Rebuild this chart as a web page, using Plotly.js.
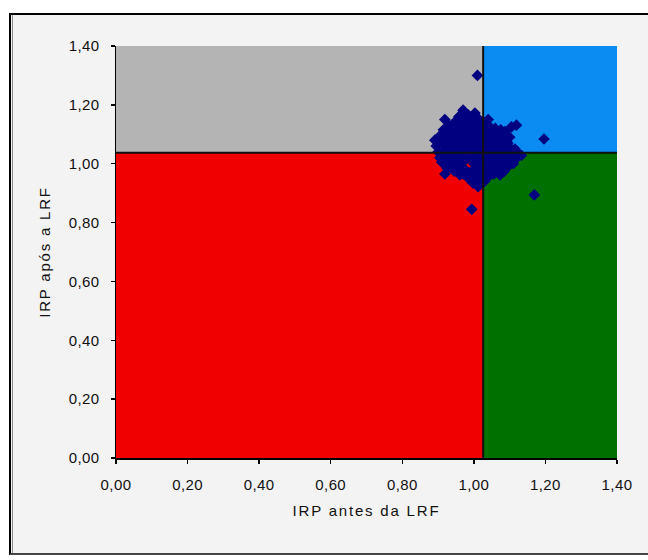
<!DOCTYPE html>
<html>
<head>
<meta charset="utf-8">
<script src="https://cdn.plot.ly/plotly-3.0.1.min.js"></script>
<style>
  html, body { margin: 0; padding: 0; background: #ffffff; overflow: hidden; width: 648px; height: 560px; }
  #frame { position: absolute; left: 9px; top: 13px; width: 700px; height: 542px;
           background: #f3f3f3; border-left: 2px solid #000; border-top: 2px solid #000;
           border-bottom: 2px solid #444; border-right: none; box-sizing: border-box; }
  #inner { position: absolute; left: 12px; top: 15px; width: 1px; height: 538px; background: #8a8a8a; }
  #chart { position: absolute; left: 0; top: 0; width: 648px; height: 560px; }
  .xtitle, .ytitle { letter-spacing: 1.8px; }
  .xtick text, .ytick text { letter-spacing: 0.4px; }
</style>
</head>
<body>
<div id="frame"></div>
<div id="inner"></div>
<div id="chart"></div>
<script>
// Reference thresholds dividing the quadrants
const xThreshold = 1.026;
const yThreshold = 1.037;

// IRP before LRF (x) and after LRF (y)
const irpAntes = [
  1.010, 1.196, 1.169, 0.994, 0.919,
  0.891, 0.895, 0.900, 0.905, 0.915, 0.919, 0.930, 0.945, 0.958, 0.970,
  0.985, 1.003, 1.015, 1.030, 1.045, 1.060, 1.075, 1.087, 1.105, 1.119,
  1.100, 1.095, 1.105, 1.120, 1.133, 1.115, 1.110, 1.095, 1.085, 1.073,
  1.055, 1.040, 1.030, 1.012, 0.998, 0.985, 0.961, 0.945, 0.925, 0.910, 0.905,
  0.920, 0.925, 0.930, 0.935, 0.940, 0.942, 0.950, 0.952, 0.955, 0.958,
  0.960, 0.965, 0.968, 0.970, 0.972, 0.975, 0.978, 0.982, 0.985, 0.988,
  0.990, 0.992, 0.995, 0.998, 1.000, 1.002, 1.005, 1.008, 1.010, 1.012,
  1.015, 1.018, 1.020, 1.022, 1.025, 1.028, 1.030, 1.032, 1.035, 1.038,
  1.040, 1.042, 1.045, 1.048, 1.050, 1.052, 1.055, 1.058, 1.060, 1.062,
  1.065, 1.068, 1.070, 1.075, 1.078, 1.080, 1.085, 1.088, 1.092, 1.098,
  0.915, 0.918, 0.928, 0.938, 0.948, 0.962, 1.025, 1.045, 0.975, 1.040,
  0.900, 0.910, 0.912, 0.922, 0.925, 0.932, 0.935, 0.940, 0.945, 0.950,
  0.955, 0.960, 0.963, 0.968, 0.972, 0.976, 0.980, 0.982, 0.986, 0.990,
  0.994, 0.996, 1.000, 1.004, 1.006, 1.010, 1.013, 1.016, 1.020, 1.024,
  1.028, 1.030, 1.034, 1.036, 1.040, 1.044, 1.047, 1.050, 1.054, 1.057,
  1.062, 1.066, 1.070, 1.074, 1.078, 1.082, 1.086, 1.090, 1.095, 1.100,
  1.108, 1.112, 1.115, 1.125, 1.000, 1.015, 1.035, 0.970, 0.955, 1.060
];
const irpApos = [
  1.300, 1.084, 0.894, 0.845, 0.965,
  1.080, 1.060, 1.040, 1.095, 1.115, 1.150, 1.130, 1.140, 1.160, 1.182,
  1.165, 1.172, 1.150, 1.140, 1.125, 1.120, 1.115, 1.109, 1.125, 1.131,
  1.090, 1.070, 1.050, 1.040, 1.028, 1.015, 1.000, 0.990, 0.975, 0.962,
  0.965, 0.955, 0.940, 0.922, 0.934, 0.950, 0.962, 0.975, 0.985, 1.005, 1.020,
  1.060, 1.090, 1.030, 1.010, 1.070, 1.110, 1.050, 1.090, 1.000, 1.125,
  1.030, 1.070, 1.105, 0.985, 1.140, 1.050, 1.015, 1.085, 1.120, 1.035,
  0.970, 1.065, 1.100, 1.140, 1.000, 1.045, 1.080, 1.115, 0.960, 1.020,
  1.060, 1.095, 0.985, 1.130, 1.040, 1.075, 1.005, 1.105, 0.975, 1.055,
  1.025, 1.090, 0.995, 1.070, 1.110, 1.040, 1.010, 1.085, 0.985, 1.055,
  1.100, 1.025, 1.070, 1.000, 1.045, 1.090, 1.020, 1.060, 1.035, 1.010,
  1.045, 1.075, 1.000, 1.050, 1.020, 0.995, 0.950, 0.975, 1.160, 1.150,
  1.070, 1.085, 1.030, 1.100, 1.015, 1.120, 1.080, 1.040, 0.995, 1.130,
  1.065, 1.150, 1.045, 1.010, 1.120, 1.090, 0.975, 1.150, 1.055, 1.125,
  1.020, 1.085, 1.160, 0.985, 1.060, 1.135, 1.000, 1.040, 1.110, 1.070,
  0.970, 1.125, 1.030, 1.090, 1.060, 1.010, 1.120, 1.050, 0.990, 1.075,
  1.035, 1.110, 1.000, 1.060, 1.025, 1.075, 1.000, 1.050, 1.025, 1.040,
  1.030, 1.010, 1.050, 1.030, 0.945, 0.940, 0.960, 0.965, 0.980, 0.970
];

const tickVals = [0, 0.2, 0.4, 0.6, 0.8, 1.0, 1.2, 1.4];
const axisMax = 1.4;

const quadrantColors = { topLeft: '#b4b4b4', topRight: '#0a8cf2', bottomLeft: '#f00000', bottomRight: '#007000' };

const trace = {
  type: 'scatter', mode: 'markers',
  x: irpAntes, y: irpApos,
  marker: { symbol: 'diamond', size: 9, color: '#000080', line: { width: 0 } },
  hoverinfo: 'x+y', showlegend: false
};

function rect(x0, x1, y0, y1, color) {
  return { type: 'rect', xref: 'x', yref: 'y', x0, x1, y0, y1, fillcolor: color,
           line: { width: 0 }, layer: 'below' };
}

const shapes = [
  rect(0, xThreshold, yThreshold, axisMax, quadrantColors.topLeft),
  rect(xThreshold, axisMax, yThreshold, axisMax, quadrantColors.topRight),
  rect(0, xThreshold, 0, yThreshold, quadrantColors.bottomLeft),
  rect(xThreshold, axisMax, 0, yThreshold, quadrantColors.bottomRight),
  { type: 'line', xref: 'x', yref: 'y', x0: xThreshold, x1: xThreshold, y0: 0, y1: axisMax,
    line: { color: '#111', width: 2 }, layer: 'above' },
  { type: 'line', xref: 'x', yref: 'y', x0: 0, x1: axisMax, y0: yThreshold, y1: yThreshold,
    line: { color: '#111', width: 2 }, layer: 'above' }
];

const tickFont = { family: 'Liberation Sans, Arial, sans-serif', size: 15, color: '#111' };
const titleFont = { family: 'Liberation Sans, Arial, sans-serif', size: 15, color: '#111' };

const layout = {
  width: 648, height: 560,
  margin: { l: 116, r: 31, t: 46, b: 102 },
  paper_bgcolor: 'rgba(0,0,0,0)',
  plot_bgcolor: 'rgba(0,0,0,0)',
  separators: ',.',
  showlegend: false,
  xaxis: {
    range: [0, axisMax], tickvals: tickVals, tickformat: '.2f',
    ticks: 'outside', ticklen: 4, tickwidth: 1.5, tickcolor: '#000',
    showgrid: false, zeroline: false,
    showline: true, linecolor: '#000', linewidth: 1.5, mirror: false,
    tickfont: tickFont, ticklabelstandoff: 8,
    title: { text: 'IRP antes da LRF', font: titleFont, standoff: 14 }
  },
  yaxis: {
    range: [0, axisMax], tickvals: tickVals, tickformat: '.2f',
    ticks: 'outside', ticklen: 4, tickwidth: 1.5, tickcolor: '#000',
    showgrid: false, zeroline: false,
    showline: true, linecolor: '#000', linewidth: 1.5, mirror: false,
    tickfont: tickFont, ticklabelstandoff: 8,
    title: { text: 'IRP após a LRF', font: titleFont, standoff: 14 }
  },
  shapes: shapes
};

Plotly.newPlot('chart', [trace], layout, { displayModeBar: false, staticPlot: true });
</script>
</body>
</html>
